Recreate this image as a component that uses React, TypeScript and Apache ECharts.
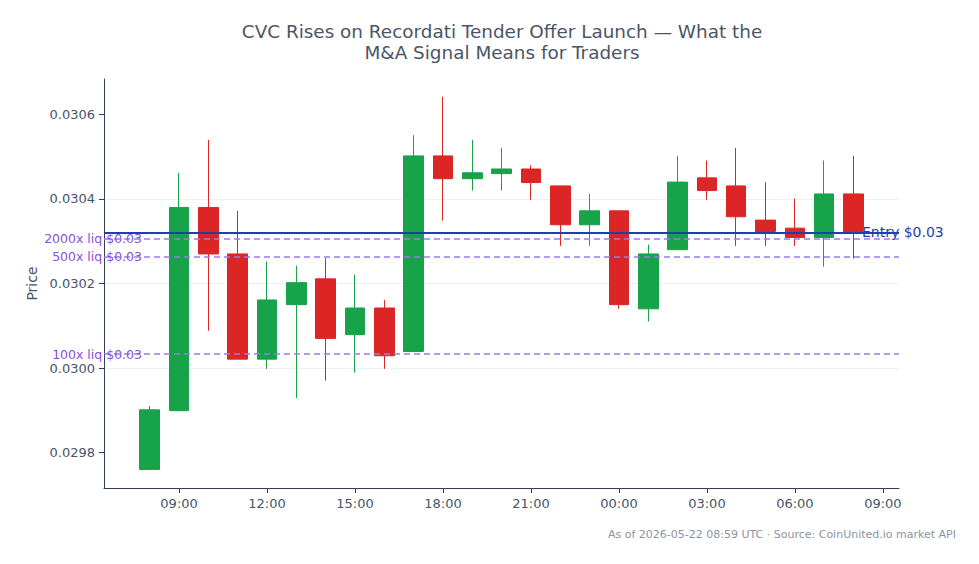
import React, { useEffect, useRef } from "react";
import * as echarts from "echarts";

// Hours counted from 2026-05-21 00:00 UTC (one candle per hour)
const hours = [8, 9, 10, 11, 12, 13, 14, 15, 16, 17, 18, 19, 20, 21, 22, 23, 24, 25, 26, 27, 28, 29, 30, 31, 32];
const opens = [0.02976, 0.029899, 0.03038, 0.03027, 0.030021, 0.03015, 0.030211, 0.030079, 0.030142, 0.030039, 0.030502, 0.030448, 0.03046, 0.030471, 0.030431, 0.030339, 0.030372, 0.03014, 0.03028, 0.03045, 0.030431, 0.03035, 0.030331, 0.030309, 0.030412];
const closes = [0.029901, 0.03038, 0.03027, 0.030021, 0.030161, 0.030202, 0.03007, 0.030142, 0.030029, 0.030502, 0.030448, 0.030462, 0.030471, 0.030439, 0.030339, 0.030372, 0.03015, 0.03027, 0.03044, 0.03042, 0.030358, 0.030323, 0.030309, 0.030412, 0.030323];
const lows = [0.02976, 0.029898, 0.030088, 0.030021, 0.029998, 0.029929, 0.02997, 0.029989, 0.029998, 0.030039, 0.030349, 0.03042, 0.03042, 0.030398, 0.030289, 0.030289, 0.03014, 0.03011, 0.03028, 0.030398, 0.030289, 0.030289, 0.030289, 0.03024, 0.030259];
const highs = [0.02991, 0.030462, 0.03054, 0.030372, 0.030252, 0.030242, 0.03026, 0.030221, 0.030161, 0.030551, 0.030642, 0.03054, 0.030521, 0.03048, 0.030431, 0.030412, 0.030372, 0.030292, 0.030502, 0.030491, 0.030521, 0.03044, 0.030401, 0.030491, 0.030502];

const entryPrice = 0.030321;
const liqLabels = ["2000x liq $0.03", "500x liq $0.03", "100x liq $0.03"];
const liqPrices = [0.030306, 0.030263, 0.030033];

const yTicks = [0.0298, 0.03, 0.0302, 0.0304, 0.0306];
const xTicks = [9, 12, 15, 18, 21, 24, 27, 30, 33];

const titleText = "CVC Rises on Recordati Tender Offer Launch — What the\nM&A Signal Means for Traders";
const footerText = "As of 2026-05-22 08:59 UTC · Source: CoinUnited.io market API";

const FONT = "DejaVu Sans";

export default function App() {
  const ref = useRef<HTMLDivElement>(null);

  useEffect(() => {
    if (!ref.current) return;
    const chart = echarts.init(ref.current, null, { renderer: "svg" });

    const data = hours.map((h, i) => [h, opens[i], closes[i], lows[i], highs[i]]);

    const liqLines = liqPrices.map((p, i) => ({
      yAxis: p,
      lineStyle: { color: "#9f7aea", width: 1.5, type: [6, 4] },
      label: {
        show: true,
        position: "start",
        distance: [-38, 0],
        formatter: liqLabels[i],
        color: "#8b4fd8",
        fontSize: 12.5,
        fontFamily: FONT,
      },
    }));

    chart.setOption({
      animation: false,
      backgroundColor: "#ffffff",
      textStyle: { fontFamily: FONT },
      title: {
        text: titleText,
        left: 497,
        top: 16,
        textAlign: "center",
        textStyle: {
          fontFamily: FONT,
          fontSize: 18.4,
          fontWeight: "normal",
          color: "#4a5568",
          lineHeight: 21,
        },
      },
      grid: { left: 104, right: 80, top: 79, bottom: 76, containLabel: false },
      xAxis: {
        type: "value",
        min: 6.44,
        max: 33.55,
        splitLine: { show: false },
        axisLine: { show: true, lineStyle: { color: "#334155", width: 1 } },
        axisTick: { show: true, customValues: xTicks, length: 5, lineStyle: { color: "#334155" } },
        axisLabel: {
          customValues: xTicks,
          margin: 9,
          fontSize: 13,
          color: "#475569",
          fontFamily: FONT,
          formatter: (v: number) => String(Math.round(v) % 24).padStart(2, "0") + ":00",
        },
      },
      yAxis: {
        type: "value",
        min: 0.029716,
        max: 0.030684,
        scale: true,
        name: "Price",
        nameLocation: "middle",
        nameGap: 65,
        nameTextStyle: { fontSize: 14, color: "#475569", fontFamily: FONT },
        axisLine: { show: true, lineStyle: { color: "#334155", width: 1 } },
        axisTick: { show: true, customValues: yTicks, length: 5, lineStyle: { color: "#334155" } },
        axisLabel: {
          customValues: yTicks,
          margin: 9,
          fontSize: 13,
          color: "#475569",
          fontFamily: FONT,
          formatter: (v: number) => v.toFixed(4),
        },
        splitLine: { show: true, showMinLine: false, showMaxLine: false, lineStyle: { color: "#eceff3", width: 1 } },
      },
      series: [
        {
          type: "line",
          data: [],
          silent: true,
          z: 1,
          markLine: {
            silent: true,
            symbol: "none",
            animation: false,
            precision: 8,
            data: liqLines,
          },
        },
        {
          type: "candlestick",
          data,
          z: 2,
          encode: { x: 0, y: [1, 2, 3, 4] },
          barWidth: 20,
          itemStyle: {
            color: "#16a34a",
            color0: "#dc2626",
            borderColor: "#16a34a",
            borderColor0: "#dc2626",
            borderWidth: 1,
          },
        },
        {
          type: "line",
          data: [],
          silent: true,
          z: 3,
          markLine: {
            silent: true,
            symbol: "none",
            animation: false,
            precision: 8,
            data: [
              {
                yAxis: entryPrice,
                lineStyle: { color: "#1e40af", width: 2, type: "solid" },
                label: {
                  show: true,
                  position: "end",
                  distance: [-37, 0],
                  formatter: "Entry $0.03",
                  color: "#1e40af",
                  fontSize: 14,
                  fontFamily: FONT,
                },
              },
            ],
          },
        },
      ],
      graphic: [
        {
          type: "text",
          right: 23,
          top: 529,
          style: {
            text: footerText,
            fontSize: 11,
            fontFamily: FONT,
            fill: "#8a94a3",
          },
        },
      ],
    });

    return () => chart.dispose();
  }, []);

  return <div ref={ref} style={{ width: 979, height: 564, margin: -8 }} />;
}
